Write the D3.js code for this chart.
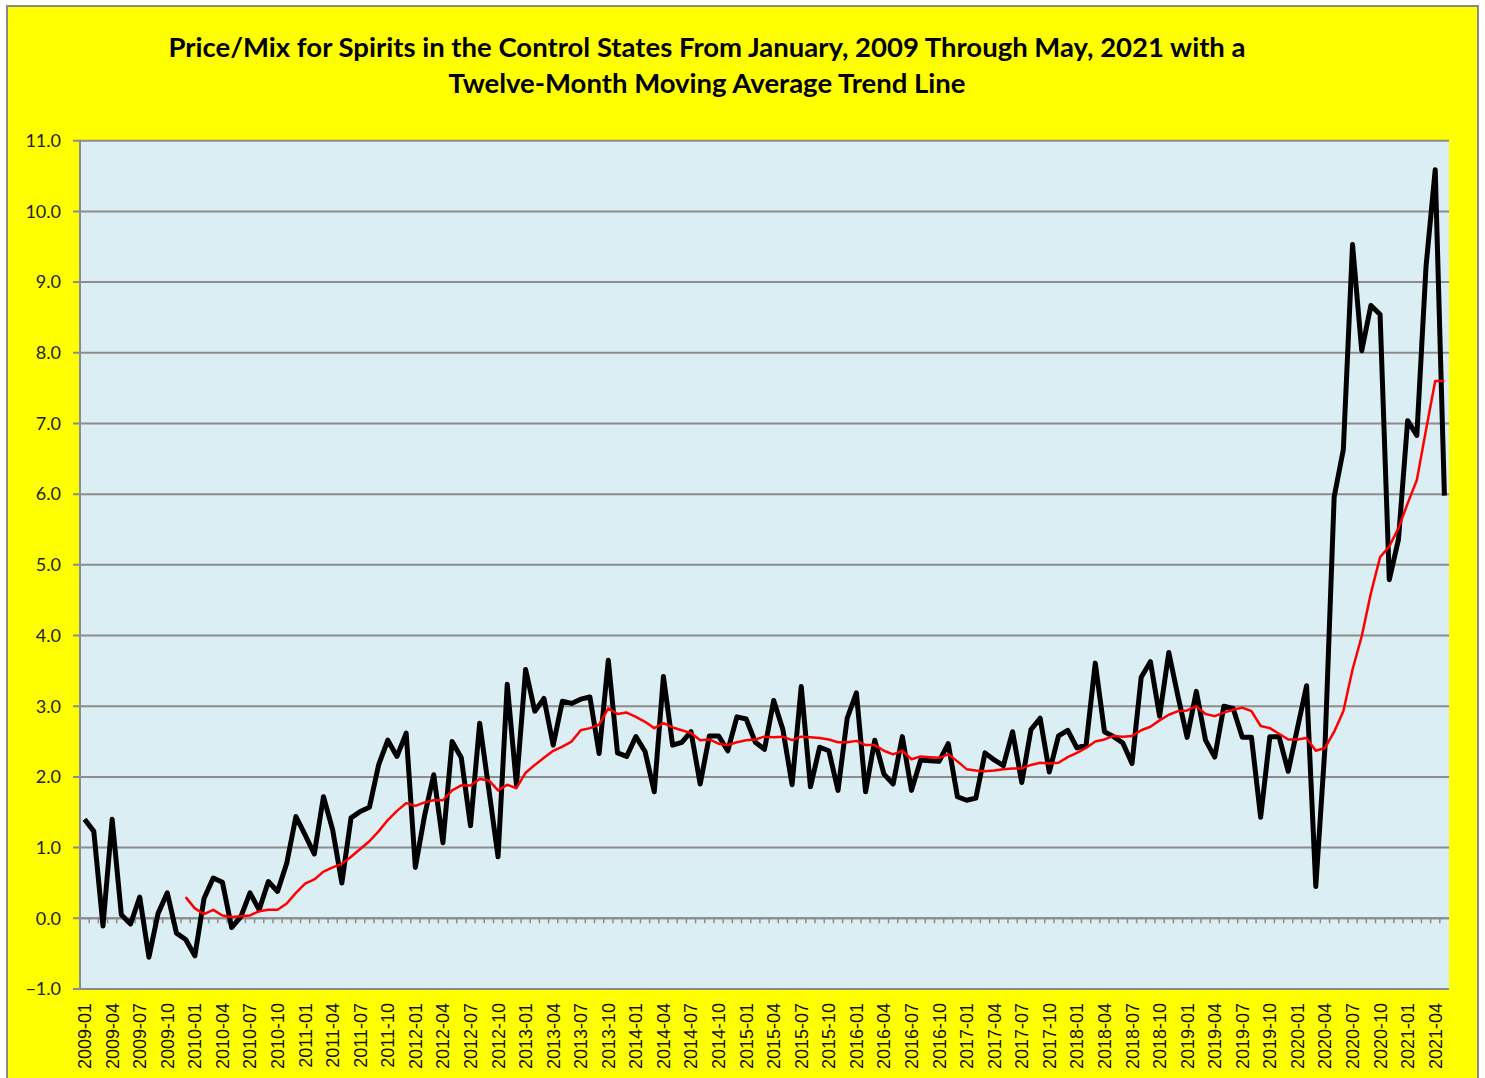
<!DOCTYPE html>
<html>
<head>
<meta charset="utf-8">
<script src="https://cdn.jsdelivr.net/npm/d3@7"></script>
<style>
  html, body { margin: 0; padding: 0; background: #fff; }
</style>
</head>
<body>
<div id="chart"></div>
<script>
// 2009-01 .. 2021-05, monthly
const START_MONTH = new Date(2009, 0, 1);
const END_MONTH = new Date(2021, 4, 1);

const TITLE_LINES = [
  'Price/Mix for Spirits in the Control States From January, 2009 Through May, 2021 with a',
  'Twelve-Month Moving Average Trend Line',
];

const Y_TICKS = [-1, 0, 1, 2, 3, 4, 5, 6, 7, 8, 9, 10, 11];

// price/mix (black line)
const priceMix = [
  1.40, 1.23, -0.11, 1.40, 0.05, -0.08, 0.30, -0.55, 0.07, 0.36, -0.21, -0.30,
  -0.53, 0.28, 0.57, 0.51, -0.13, 0.02, 0.36, 0.12, 0.52, 0.38, 0.78, 1.44,
  1.18, 0.91, 1.72, 1.25, 0.50, 1.42, 1.51, 1.57, 2.17, 2.52, 2.29, 2.62,
  0.72, 1.45, 2.03, 1.07, 2.50, 2.27, 1.31, 2.76, 1.82, 0.87, 3.31, 1.89,
  3.52, 2.93, 3.11, 2.45, 3.07, 3.04, 3.10, 3.13, 2.33, 3.65, 2.34, 2.29,
  2.57, 2.36, 1.79, 3.42, 2.45, 2.49, 2.64, 1.90, 2.58, 2.58, 2.37, 2.85,
  2.82, 2.49, 2.39, 3.08, 2.67, 1.89, 3.28, 1.86, 2.42, 2.37, 1.81, 2.83,
  3.19, 1.79, 2.52, 2.04, 1.90, 2.57, 1.81, 2.24, 2.23, 2.22, 2.47, 1.72,
  1.67, 1.70, 2.34, 2.24, 2.16, 2.64, 1.92, 2.67, 2.83, 2.07, 2.58, 2.66,
  2.41, 2.45, 3.61, 2.64, 2.57, 2.48, 2.19, 3.41, 3.63, 2.86, 3.76, 3.14,
  2.56, 3.21, 2.52, 2.28, 3.00, 2.97, 2.56, 2.56, 1.43, 2.57, 2.57, 2.08,
  2.69, 3.29, 0.45, 2.42, 5.96, 6.63, 9.53, 8.03, 8.67, 8.54, 4.79, 5.36,
  7.04, 6.83, 9.22, 10.59, 5.98,
];

// twelve-month moving average (red line), starts 2009-12
const movingAverage = [
  null, null, null, null, null, null, null, null, null, null, null, 0.30,
  0.14, 0.06, 0.12, 0.04, 0.02, 0.03, 0.04, 0.10, 0.12, 0.12, 0.21, 0.36,
  0.49, 0.55, 0.66, 0.72, 0.77, 0.87, 0.98, 1.09, 1.23, 1.39, 1.52, 1.63,
  1.59, 1.64, 1.67, 1.67, 1.81, 1.88, 1.88, 1.97, 1.95, 1.81, 1.89, 1.84,
  2.06, 2.17, 2.27, 2.37, 2.43, 2.50, 2.66, 2.69, 2.74, 2.97, 2.89, 2.91,
  2.85, 2.78, 2.69, 2.76, 2.70, 2.66, 2.62, 2.52, 2.53, 2.47, 2.45, 2.49,
  2.52, 2.53, 2.57, 2.56, 2.57, 2.52, 2.57, 2.56, 2.55, 2.53, 2.49, 2.49,
  2.51, 2.45, 2.45, 2.37, 2.32, 2.37, 2.25, 2.29, 2.28, 2.27, 2.32, 2.22,
  2.11, 2.09, 2.08, 2.09, 2.11, 2.12, 2.12, 2.17, 2.20, 2.19, 2.20, 2.28,
  2.34, 2.41, 2.50, 2.53, 2.58, 2.57, 2.58, 2.66, 2.71, 2.80, 2.88, 2.93,
  2.94, 3.00, 2.89, 2.86, 2.91, 2.95, 2.98, 2.93, 2.72, 2.69, 2.61, 2.53,
  2.53, 2.55, 2.37, 2.41, 2.64, 2.93, 3.52, 3.99, 4.60, 5.11, 5.26, 5.52,
  5.87, 6.20, 6.91, 7.60, 7.60,
];

const fmtMonth = d3.timeFormat('%Y-%m');
const categories = d3.timeMonth.range(START_MONTH, d3.timeMonth.offset(END_MONTH, 1)).map(fmtMonth);
// every third month is labelled
const tickLabels = categories.filter((c, i) => i % 3 === 0);

const WIDTH = 1485;
const HEIGHT = 1078;
const PLOT = { left: 80, right: 1449, top: 140.7, bottom: 989 };
const GRID_COLOR = '#8c8c8c';

const svg = d3
  .select('#chart')
  .append('svg')
  .attr('width', WIDTH)
  .attr('height', HEIGHT)
  .style('display', 'block');

// chart area
svg
  .append('rect')
  .attr('x', 7)
  .attr('y', 6)
  .attr('width', 1471)
  .attr('height', 1100)
  .attr('fill', '#ffff00')
  .attr('stroke', '#888888')
  .attr('stroke-width', 2);

// plot area
svg
  .append('rect')
  .attr('x', PLOT.left)
  .attr('y', PLOT.top)
  .attr('width', PLOT.right - PLOT.left)
  .attr('height', PLOT.bottom - PLOT.top)
  .attr('fill', '#daeef3');

const x = d3.scaleBand().domain(categories).range([PLOT.left, PLOT.right]);
const y = d3.scaleLinear().domain([-1, 11]).range([PLOT.bottom, PLOT.top]);
const cx = (c) => x(c) + x.bandwidth() / 2;

// horizontal gridlines
svg
  .append('g')
  .selectAll('line')
  .data(Y_TICKS)
  .enter()
  .append('line')
  .attr('x1', PLOT.left - 7)
  .attr('x2', PLOT.right)
  .attr('y1', (d) => y(d))
  .attr('y2', (d) => y(d))
  .attr('stroke', GRID_COLOR)
  .attr('stroke-width', 2);

// value axis
svg
  .append('line')
  .attr('x1', PLOT.left)
  .attr('x2', PLOT.left)
  .attr('y1', PLOT.top)
  .attr('y2', PLOT.bottom)
  .attr('stroke', GRID_COLOR)
  .attr('stroke-width', 2);

svg
  .append('g')
  .selectAll('text')
  .data(Y_TICKS)
  .enter()
  .append('text')
  .attr('x', 61)
  .attr('y', (d) => y(d))
  .attr('dy', '0.35em')
  .attr('text-anchor', 'end')
  .attr('font-family', 'Lato, "Open Sans", sans-serif')
  .attr('font-size', 18)
  .attr('fill', '#222')
  .text((d) => d3.format('.1f')(d));

// category axis crosses at zero, with a tick between every month
const zeroAxis = svg.append('g').attr('transform', `translate(0,${y(0)})`);
zeroAxis
  .append('line')
  .attr('x1', PLOT.left)
  .attr('x2', PLOT.right)
  .attr('stroke', GRID_COLOR)
  .attr('stroke-width', 2);
zeroAxis
  .selectAll('line.tick')
  .data(categories.slice(1))
  .enter()
  .append('line')
  .attr('class', 'tick')
  .attr('x1', (d) => x(d))
  .attr('x2', (d) => x(d))
  .attr('y1', 0)
  .attr('y2', 5)
  .attr('stroke', GRID_COLOR)
  .attr('stroke-width', 1.5);

// month labels at the bottom
svg
  .append('g')
  .selectAll('text')
  .data(tickLabels)
  .enter()
  .append('text')
  .attr('transform', (d) => `translate(${cx(d)},1003) rotate(-90)`)
  .attr('dy', '0.36em')
  .attr('text-anchor', 'end')
  .attr('font-family', '"Liberation Sans", Arial, sans-serif')
  .attr('font-size', 18)
  .attr('fill', '#111')
  .text((d) => d);

const line = d3
  .line()
  .defined((d) => d.value !== null)
  .x((d) => cx(d.month))
  .y((d) => y(d.value));

svg
  .append('path')
  .datum(categories.map((month, i) => ({ month, value: priceMix[i] })))
  .attr('fill', 'none')
  .attr('stroke', '#000')
  .attr('stroke-width', 5)
  .attr('stroke-linejoin', 'round')
  .attr('d', line);

svg
  .append('path')
  .datum(categories.map((month, i) => ({ month, value: movingAverage[i] })))
  .attr('fill', 'none')
  .attr('stroke', '#ff0000')
  .attr('stroke-width', 2.5)
  .attr('stroke-linejoin', 'round')
  .attr('d', line);

// title
svg
  .append('text')
  .attr('x', 707)
  .attr('y', 47)
  .attr('text-anchor', 'middle')
  .attr('font-family', 'Lato, "Open Sans", sans-serif')
  .attr('font-weight', 'bold')
  .attr('font-size', 27.5)
  .attr('fill', '#000')
  .selectAll('tspan')
  .data(TITLE_LINES)
  .enter()
  .append('tspan')
  .attr('x', 707)
  .attr('dy', (d, i) => (i === 0 ? '0.35em' : 36))
  .text((d) => d);
</script>
</body>
</html>
